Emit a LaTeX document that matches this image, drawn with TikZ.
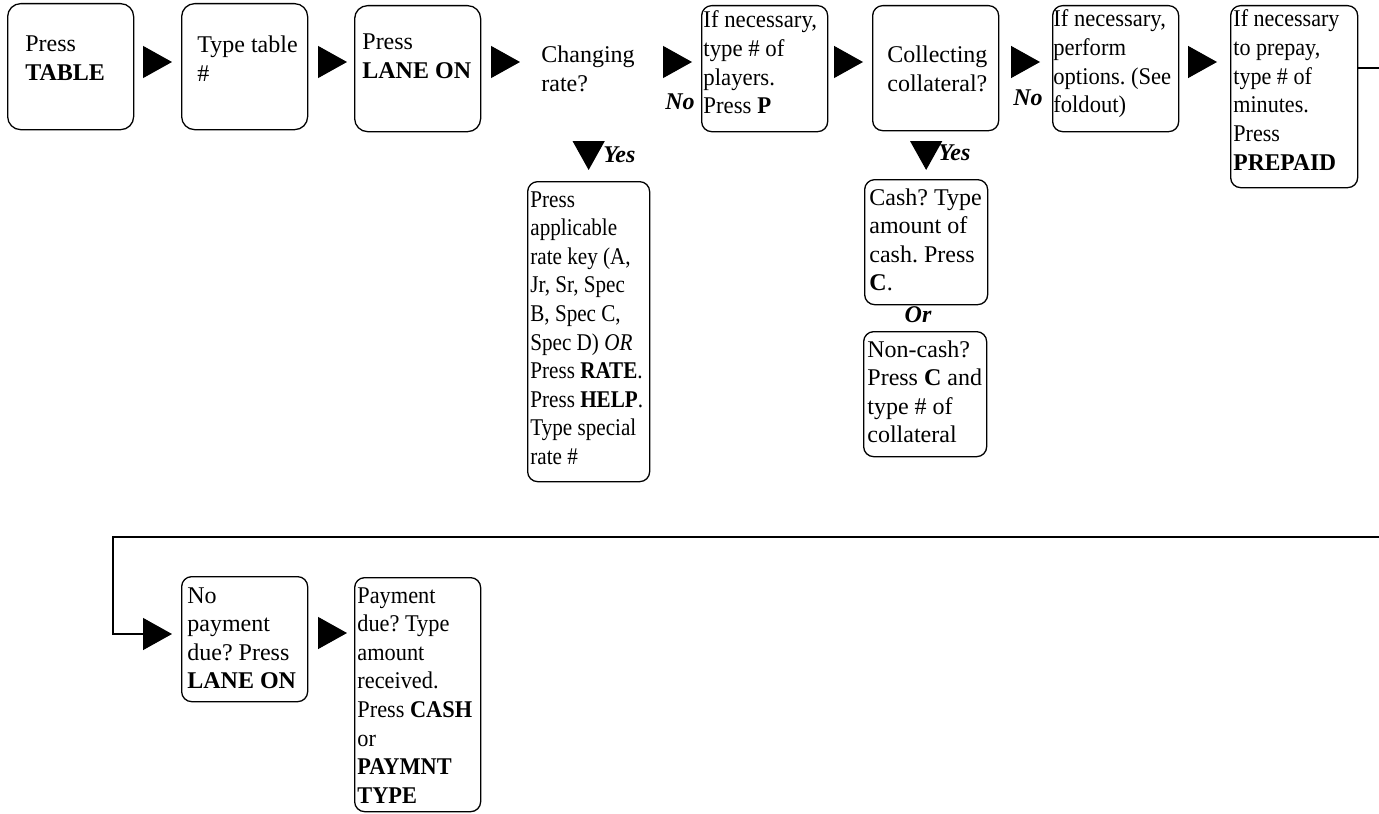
\documentclass[tikz,border=0pt]{standalone}
\usepackage{graphicx}
\usepackage{fontspec}
\setmainfont{Liberation Serif}
\usetikzlibrary{arrows.meta,calc}
\newcommand\ml[1]{\vtop{\halign{##\hfil\cr#1\crcr}}}
\newcommand\sx[2]{\scalebox{#1}[1]{#2}}
\frenchspacing
\begin{document}
\begin{tikzpicture}[x=0.5pt,y=-0.5pt,
  box/.style={draw, line width=0.65pt, rounded corners=5pt, inner sep=0pt, anchor=north west},
  bigbox/.style={box, rounded corners=6.5pt},
  txt/.style={inner sep=0pt, anchor=base west, font=\fontsize{12}{14.3}\selectfont},
  lab/.style={inner sep=0pt, anchor=base west, font=\fontsize{12}{14.3}\selectfont\bfseries\itshape},
  tri/.style={line width=0.65pt, -{Triangle[length=14.5pt,width=16pt]}}
]
\useasboundingbox (0,0) rectangle (1379,813);

% boxes
\node[bigbox, minimum width=63pt, minimum height=63pt] (b1) at (7,3) {};
\node[bigbox, minimum width=63pt, minimum height=63pt] (b2) at (181,3) {};
\node[bigbox, minimum width=63pt, minimum height=63pt] (b3) at (354,5) {};
\node[box, minimum width=63pt, minimum height=63pt] (b4) at (701,5) {};
\node[box, minimum width=63pt, minimum height=62.5pt] (b5) at (872,5) {};
\node[box, minimum width=63pt, minimum height=63pt] (b6) at (1052,5) {};
\node[box, minimum width=63.5pt, minimum height=91pt] (b7) at (1230,5) {};
\node[box, minimum width=61pt, minimum height=150pt] (rate) at (527,181) {};
\node[box, minimum width=61.5pt, minimum height=62.5pt] (cash) at (864,179) {};
\node[box, minimum width=61.5pt, minimum height=62.5pt] (noncash) at (863,331) {};
\node[box, minimum width=63pt, minimum height=62.5pt] (b8) at (181,576) {};
\node[box, minimum width=63pt, minimum height=117pt] (b9) at (354,577) {};

% texts
\node[txt] (t1) at (25,52) {\ml{Press\cr\textbf{TABLE}}};
\node[txt] (t2) at (197,53) {\ml{Type table\cr\#}};
\node[txt] (t3) at (362,50) {\ml{Press\cr\textbf{LANE ON}}};
\node[txt] (q1) at (541,63) {\ml{Changing\cr rate?}};
\node[txt] (t4) at (703,28) {\sx{0.95}{\ml{If necessary,\cr type \# of\cr players.\cr Press \textbf{P}}}};
\node[txt] (t5) at (887,63) {\ml{Collecting\cr collateral?}};
\node[txt] (t6) at (1053,27) {\sx{0.94}{\ml{If necessary,\cr perform\cr options. (See\cr foldout)}}};
\node[txt] (t7) at (1233,27) {\ml{\sx{0.92}{If necessary}\cr \sx{0.92}{to prepay,}\cr \sx{0.92}{type \# of}\cr \sx{0.92}{minutes.}\cr \sx{0.92}{Press}\cr \sx{0.98}{\textbf{PREPAID}}}};
\node[txt] (trate) at (530,207) {\sx{0.88}{\ml{Press\cr applicable\cr rate key (A,\cr Jr, Sr, Spec\cr B, Spec C,\cr Spec D) \textit{OR}\cr Press \textbf{RATE}.\cr Press \textbf{HELP}.\cr Type special\cr rate \#}}};
\node[txt] (tcash) at (869,205) {\ml{Cash? Type\cr amount of\cr cash. Press\cr \textbf{C}.}};
\node[txt] (tnon) at (867,357) {\ml{Non-cash?\cr Press \textbf{C} and\cr type \# of\cr collateral}};
\node[txt] (t8) at (187,603) {\ml{No\cr payment\cr due? Press\cr \textbf{LANE ON}}};
\node[txt] (t9) at (357,603) {\sx{0.93}{\ml{Payment\cr due? Type\cr amount\cr received.\cr Press \textbf{CASH}\cr or\cr \textbf{PAYMNT}\cr \textbf{TYPE}}}};

% labels
\node[lab] (no1) at (665,110) {No};
\node[lab] (no2) at (1013,105) {No};
\node[lab] (yes1) at (603,162) {Yes};
\node[lab] (yes2) at (938,160) {Yes};
\node[lab, anchor=base] (or1) at (918,322) {Or};

% connectors
\coordinate (rowy) at (0,62);
\draw[tri, shorten <=5pt, shorten >=4.5pt] (b1.east |- rowy) -- (b2.west |- rowy);
\draw[tri, shorten <=5.5pt, shorten >=3.5pt] (b2.east |- rowy) -- (b3.west |- rowy);
\draw[tri, shorten <=6pt, shorten >=10.5pt] (b3.east |- rowy) -- (q1.west |- rowy);
\draw[tri, shorten <=14.3pt, shorten >=4.5pt] (q1.east |- rowy) -- (b4.west |- rowy);
\draw[tri, shorten <=4pt, shorten >=4.5pt] (b4.east |- rowy) -- (b5.west |- rowy);
\draw[tri, shorten <=7pt, shorten >=6pt] (b5.east |- rowy) -- (b6.west |- rowy);
\draw[tri, shorten <=5pt, shorten >=6.5pt] (b6.east |- rowy) -- (b7.west |- rowy);
\draw[tri, shorten <=25.5pt, shorten >=5.5pt] (rate.north |- q1.south) -- (rate.north);
\draw[tri, shorten <=6.5pt, shorten >=4.5pt] (cash.north |- b5.south) -- (cash.north);

\coordinate (lp) at ($(b7.north east)+(0,63)$);
\coordinate (c1) at (1380,68);
\coordinate (c2) at (1380,537);
\coordinate (c3) at (113,537);
\coordinate (c4) at (113,634);
\draw[tri, shorten >=4.5pt] (lp) -- (c1) -- (c2) -- (c3) -- (c4) -- (b8.west |- c4);
\coordinate (rowb) at (0,633);
\draw[tri, shorten <=5.5pt, shorten >=3.5pt] (b8.east |- rowb) -- (b9.west |- rowb);
\end{tikzpicture}
\end{document}
